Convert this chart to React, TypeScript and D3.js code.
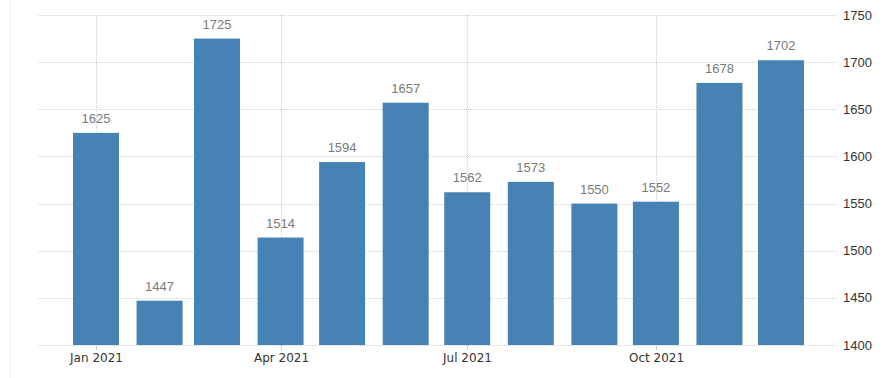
import React from "react";
import * as d3 from "d3";

const months = ["2021-01-01","2021-02-01","2021-03-01","2021-04-01","2021-05-01","2021-06-01","2021-07-01","2021-08-01","2021-09-01","2021-10-01","2021-11-01","2021-12-01"];
const values = [1625, 1447, 1725, 1514, 1594, 1657, 1562, 1573, 1550, 1552, 1678, 1702];
const yTicks = [1400, 1450, 1500, 1550, 1600, 1650, 1700, 1750];
const xTicks = ["2021-01-01", "2021-04-01", "2021-07-01", "2021-10-01"];

const W = 885, H = 378;

export default function App() {
  const parse = d3.utcParse("%Y-%m-%d");
  const x = d3.scaleUtc()
    .domain([parse("2021-01-01")!, parse("2021-12-01")!])
    .range([96, 781]);
  const y = d3.scaleLinear().domain([1400, 1750]).range([345, 15]);
  const fmt = d3.utcFormat("%b %Y");
  const bw = 46;
  return (
    <svg width={W} height={H} style={{ position: "absolute", left: 0, top: 0, background: "#fff" }}>
      <line x1={10.5} x2={10.5} y1={0} y2={H} stroke="#f0f0f0" />
      {yTicks.map((t) => (
        <g key={t}>
          <line x1={38} x2={837} y1={Math.round(y(t)) + 0.5} y2={Math.round(y(t)) + 0.5} stroke="#d0d0d0" strokeDasharray="1,1" />
          <text x={843} y={y(t)} dy="0.35em" fontFamily="Liberation Sans, Arial" fontSize={13} fill="#333">{t}</text>
        </g>
      ))}
      {xTicks.map((t) => {
        const xv = Math.round(x(parse(t)!)) + 0.5;
        return (
          <g key={t}>
            <line x1={xv} x2={xv} y1={15} y2={345} stroke="#d0d0d0" strokeDasharray="1,1" />
            <line x1={xv} x2={xv} y1={345} y2={350} stroke="#ccc" />
            <text x={xv} y={362} textAnchor="middle" fontFamily="DejaVu Sans, Tahoma" fontSize={12} fill="#333">{fmt(parse(t)!)}</text>
          </g>
        );
      })}
      {values.map((v, i) => {
        const cx = x(parse(months[i])!);
        return (
          <g key={i}>
            <rect x={cx - bw / 2} y={y(v)} width={bw} height={345 - y(v)} fill="#4682b4" />
            <text x={cx} y={y(v) - 10} textAnchor="middle" fontFamily="Liberation Sans, Arial" fontSize={13} fill="#7a7a7a">{v}</text>
          </g>
        );
      })}
    </svg>
  );
}
